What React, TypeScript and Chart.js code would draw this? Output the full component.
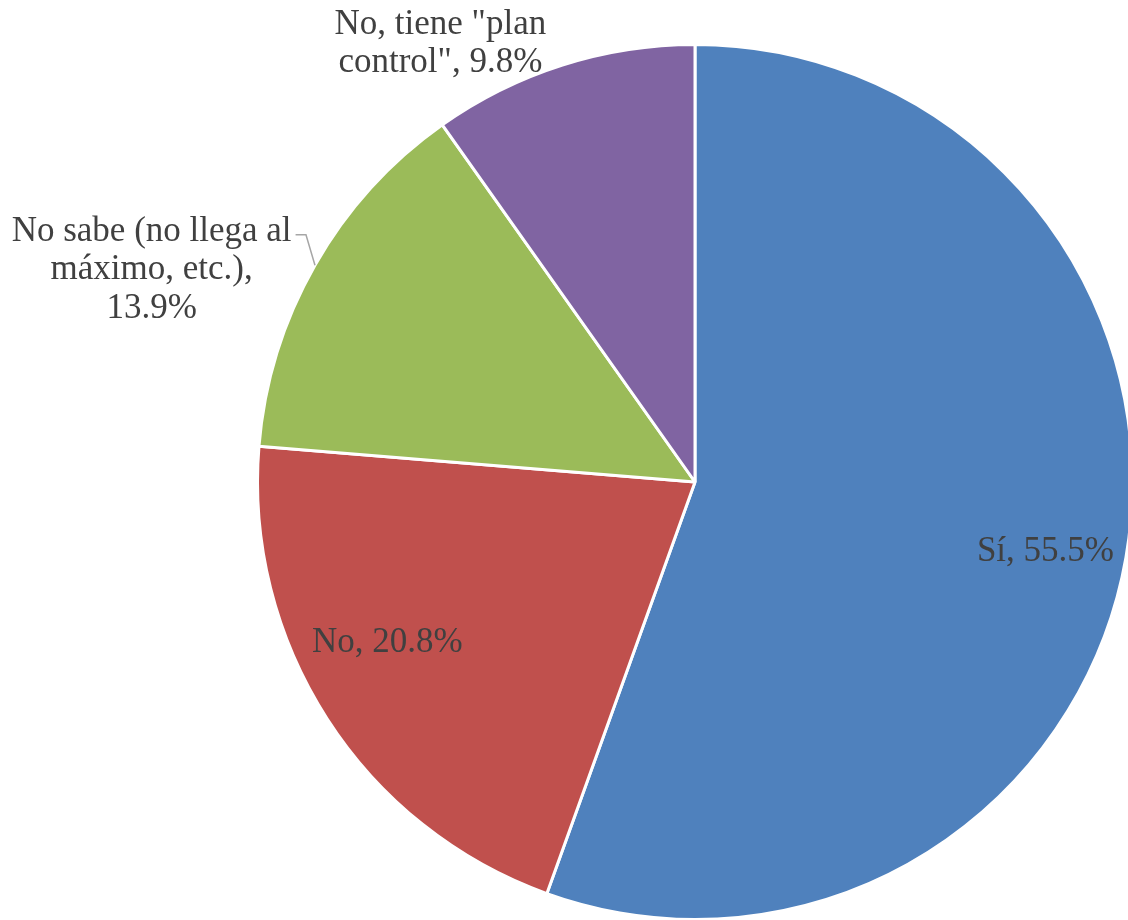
import React, { useEffect, useRef } from "react";
import { Chart, registerables } from "chart.js";

Chart.register(...registerables);

const categories: string[][] = [
  ["Sí, 55.5%"],
  ["No, 20.8%"],
  ["No sabe (no llega al", "máximo, etc.),", "13.9%"],
  ["No, tiene \"plan", "control\", 9.8%"],
];
const seriesValues: number[] = [55.5, 20.8, 13.9, 9.8];
const sliceColors: string[] = ["#4F81BD", "#C0504D", "#9BBB59", "#8064A2"];

// label placement (in units of the pie radius, relative to the pie centre)
const labelPlacement = [
  { dx: 0.801, dy: 0.16, leader: false },
  { dx: -0.703, dy: 0.368, leader: false },
  { dx: -1.242, dy: -0.484, leader: true },
  { dx: -0.582, dy: -1.002, leader: false },
];

const FONT_SIZE = 35;
const LINE_H = 38.5;

const labelPlugin = {
  id: "pieLabels",
  afterDatasetsDraw(chart: any) {
    const ctx = chart.ctx as CanvasRenderingContext2D;
    const meta = chart.getDatasetMeta(0);
    ctx.save();
    ctx.font = `${FONT_SIZE}px "Liberation Serif", serif`;
    ctx.fillStyle = "#404040";
    ctx.textAlign = "center";
    ctx.textBaseline = "middle";
    meta.data.forEach((arc: any, i: number) => {
      const p = labelPlacement[i];
      const r = arc.outerRadius;
      const cx = arc.x + p.dx * r;
      const cy = arc.y + p.dy * r;
      const lines = categories[i];
      const n = lines.length;
      lines.forEach((ln, k) => {
        ctx.fillText(ln, cx, cy + (k - (n - 1) / 2) * LINE_H);
      });
      if (p.leader) {
        const mid = (arc.startAngle + arc.endAngle) / 2;
        const ex = arc.x + Math.cos(mid) * r;
        const ey = arc.y + Math.sin(mid) * r;
        const w = ctx.measureText(lines[0]).width;
        const sx = cx + w / 2 + 4;
        const sy = cy - ((n - 1) / 2) * LINE_H + 3;
        ctx.beginPath();
        ctx.strokeStyle = "#A6A6A6";
        ctx.lineWidth = 1.5;
        ctx.moveTo(sx, sy);
        ctx.lineTo(ex - 9, sy);
        ctx.lineTo(ex, ey);
        ctx.stroke();
      }
    });
    ctx.restore();
  },
};

export default function App() {
  const ref = useRef<HTMLCanvasElement | null>(null);
  useEffect(() => {
    if (!ref.current) return;
    const chart = new Chart(ref.current, {
      type: "pie",
      data: {
        labels: categories.map((c) => c.join(" ")),
        datasets: [
          {
            data: seriesValues,
            backgroundColor: sliceColors,
            borderColor: "#FFFFFF",
            borderWidth: 3,
          },
        ],
      },
      options: {
        responsive: false,
        animation: false,
        layout: { padding: { left: 256, top: 43, right: 6, bottom: 1 } },
        plugins: {
          legend: { display: false },
          tooltip: { enabled: false },
        },
      },
      plugins: [labelPlugin],
    });
    return () => chart.destroy();
  }, []);
  return (
    <div
      style={{
        position: "fixed",
        left: 0,
        top: 0,
        width: 1128,
        height: 920,
        overflow: "hidden",
        background: "#FFFFFF",
      }}
    >
      <canvas ref={ref} width={1140} height={922} style={{ display: "block" }} />
    </div>
  );
}
